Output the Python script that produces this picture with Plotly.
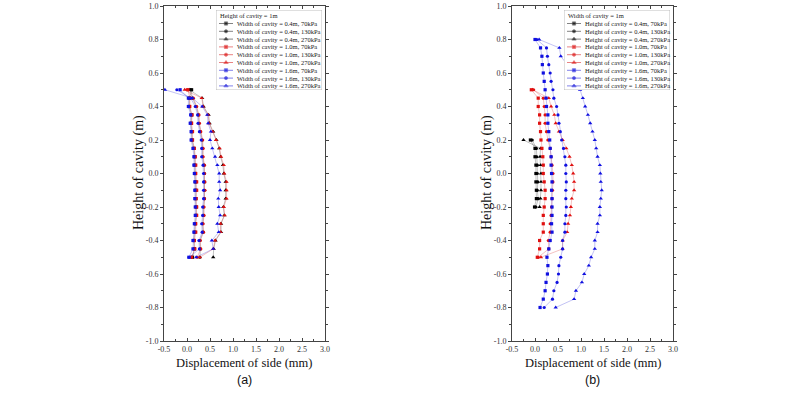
import plotly.graph_objects as go

# ---------------- data ----------------
pressures = ["70kPa", "130kPa", "270kPa"]
symbols = ["square", "circle", "triangle-up"]
colors = ["#000000", "#e01010", "#1010e0"]
line_colors = ["rgba(60,60,60,0.45)", "rgba(220,60,60,0.45)", "rgba(60,60,220,0.45)"]

# Panel (a): height of cavity = 1 m, widths 0.4 / 1.0 / 1.6 m
widths_a = ["0.4m", "1.0m", "1.6m"]
y_a = [0.5, 0.45, 0.4, 0.35, 0.3, 0.25, 0.2, 0.15, 0.1, 0.05, 0.0,
       -0.05, -0.1, -0.15, -0.2, -0.25, -0.3, -0.35, -0.4, -0.45, -0.5]

w04_70 = [0.10, 0.05, 0.05, 0.10, 0.09, 0.10, 0.11, 0.15, 0.17, 0.17, 0.18, 0.19, 0.19, 0.19, 0.20, 0.20, 0.18, 0.17, 0.15, 0.16, 0.12]
w04_130 = [0.08, 0.12, 0.20, 0.25, 0.26, 0.29, 0.33, 0.34, 0.34, 0.37, 0.38, 0.38, 0.38, 0.38, 0.36, 0.36, 0.34, 0.35, 0.28, 0.29, 0.28]
w04_270 = [0.05, 0.33, 0.36, 0.47, 0.49, 0.57, 0.64, 0.70, 0.73, 0.78, 0.80, 0.84, 0.84, 0.84, 0.79, 0.81, 0.74, 0.74, 0.62, 0.58, 0.57]
w10_70 = [0.02, 0.06, 0.06, 0.11, 0.10, 0.12, 0.12, 0.16, 0.18, 0.19, 0.19, 0.21, 0.21, 0.20, 0.21, 0.21, 0.19, 0.19, 0.16, 0.17, 0.10]
w10_130 = [0.00, 0.14, 0.21, 0.26, 0.27, 0.30, 0.34, 0.35, 0.35, 0.38, 0.38, 0.39, 0.39, 0.38, 0.37, 0.37, 0.35, 0.36, 0.29, 0.30, 0.22]
w10_270 = [-0.05, 0.32, 0.35, 0.46, 0.48, 0.56, 0.63, 0.71, 0.74, 0.80, 0.81, 0.86, 0.86, 0.86, 0.80, 0.82, 0.73, 0.73, 0.61, 0.57, 0.28]
w16_70 = [-0.15, 0.03, 0.03, 0.08, 0.07, 0.09, 0.09, 0.13, 0.15, 0.15, 0.16, 0.17, 0.17, 0.17, 0.18, 0.18, 0.16, 0.15, 0.13, 0.13, 0.04]
w16_130 = [-0.22, 0.08, 0.18, 0.23, 0.24, 0.27, 0.31, 0.32, 0.32, 0.35, 0.36, 0.36, 0.36, 0.36, 0.34, 0.34, 0.32, 0.33, 0.26, 0.27, 0.05]
w16_270 = [-0.48, 0.12, 0.33, 0.44, 0.46, 0.52, 0.50, 0.55, 0.61, 0.66, 0.70, 0.70, 0.72, 0.68, 0.69, 0.72, 0.66, 0.69, 0.54, 0.57, 0.20]

# Panel (b): width of cavity = 1 m, heights 0.4 / 1.0 / 1.6 m
heights_b = ["0.4m", "1.0m", "1.6m"]
y_h04 = [0.2, 0.15, 0.1, 0.05, 0.0, -0.05, -0.1, -0.15, -0.2]
y_h10 = y_a
y_h16 = [0.8, 0.75, 0.7, 0.65, 0.6, 0.55, 0.5, 0.45, 0.4, 0.35, 0.3, 0.25, 0.2, 0.15, 0.1, 0.05, 0.0,
         -0.05, -0.1, -0.15, -0.2, -0.25, -0.3, -0.35, -0.4, -0.45, -0.5, -0.55, -0.6, -0.65, -0.7, -0.75, -0.8]

h04_70 = [-0.10, 0.00, 0.00, 0.02, 0.02, 0.02, 0.03, 0.03, -0.01]
h04_130 = [-0.06, 0.03, 0.04, 0.05, 0.05, 0.06, 0.05, 0.07, 0.02]
h04_270 = [-0.25, 0.12, 0.11, 0.12, 0.13, 0.13, 0.13, 0.12, 0.10]
h10_70 = [-0.08, 0.07, 0.07, 0.10, 0.10, 0.12, 0.13, 0.15, 0.17, 0.18, 0.18, 0.20, 0.22, 0.22, 0.20, 0.18, 0.18, 0.18, 0.10, 0.10, 0.05]
h10_130 = [-0.03, 0.18, 0.20, 0.22, 0.22, 0.25, 0.28, 0.33, 0.35, 0.37, 0.39, 0.39, 0.38, 0.37, 0.36, 0.35, 0.33, 0.33, 0.29, 0.30, 0.07]
h10_270 = [-0.05, 0.30, 0.35, 0.42, 0.45, 0.52, 0.60, 0.68, 0.75, 0.80, 0.83, 0.85, 0.85, 0.80, 0.78, 0.76, 0.72, 0.70, 0.60, 0.60, 0.13]
h16_70 = [0.00, 0.12, 0.15, 0.16, 0.18, 0.20, 0.22, 0.24, 0.25, 0.28, 0.28, 0.30, 0.32, 0.33, 0.35, 0.35, 0.36,
          0.37, 0.36, 0.37, 0.37, 0.37, 0.36, 0.37, 0.33, 0.30, 0.26, 0.28, 0.27, 0.24, 0.22, 0.18, 0.11]
h16_130 = [0.04, 0.25, 0.27, 0.30, 0.33, 0.35, 0.39, 0.41, 0.47, 0.50, 0.52, 0.55, 0.58, 0.62, 0.65, 0.67, 0.67,
           0.68, 0.67, 0.67, 0.68, 0.67, 0.65, 0.65, 0.60, 0.60, 0.56, 0.52, 0.51, 0.48, 0.41, 0.38, 0.20]
h16_270 = [0.09, 0.53, 0.56, 0.70, 0.80, 0.90, 0.98, 1.04, 1.09, 1.15, 1.20, 1.25, 1.30, 1.33, 1.36, 1.41, 1.42,
           1.43, 1.45, 1.43, 1.41, 1.41, 1.36, 1.36, 1.30, 1.30, 1.22, 1.17, 1.07, 1.02, 0.89, 0.85, 0.45]

x_ticks = [-0.5, 0.0, 0.5, 1.0, 1.5, 2.0, 2.5, 3.0]
x_ticktext = ["-0.5", "0.0", "0.5", "1.0", "1.5", "2.0", "2.5", "3.0"]
y_ticks = [-1.0, -0.8, -0.6, -0.4, -0.2, 0.0, 0.2, 0.4, 0.6, 0.8, 1.0]
y_ticktext = ["-1.0", "-0.8", "-0.6", "-0.4", "-0.2", "0.0", "0.2", "0.4", "0.6", "0.8", "1.0"]

series_a = [(w04_70, y_a), (w04_130, y_a), (w04_270, y_a),
            (w10_70, y_a), (w10_130, y_a), (w10_270, y_a),
            (w16_70, y_a), (w16_130, y_a), (w16_270, y_a)]
series_b = [(h04_70, y_h04), (h04_130, y_h04), (h04_270, y_h04),
            (h10_70, y_h10), (h10_130, y_h10), (h10_270, y_h10),
            (h16_70, y_h16), (h16_130, y_h16), (h16_270, y_h16)]

labels_a = [f"Width of cavity = {w}, {p}" for w in widths_a for p in pressures]
labels_b = [f"Height of cavity = {h}, {p}" for h in heights_b for p in pressures]

# ---------------- figure ----------------
W, H = 800, 397
SERIF = "Liberation Serif"
fig = go.Figure()

def px_x(p):
    return p / W

def px_y(p):
    return 1 - p / H

panels = [
    dict(xa="x", ya="y", series=series_a, labels=labels_a, x0=164, x1=325,
         lx="x3", ly="y3", leg_x0=216, leg_title="Height of cavity = 1m", tag="(a)"),
    dict(xa="x2", ya="y2", series=series_b, labels=labels_b, x0=512, x1=673,
         lx="x4", ly="y4", leg_x0=564, leg_title="Width of cavity = 1m", tag="(b)"),
]

MS = [3.2, 3.2, 3.8]
for P in panels:
    for i, (xs, ys) in enumerate(P["series"]):
        g, pi = divmod(i, 3)
        fig.add_trace(go.Scatter(
            x=xs, y=ys, mode="lines+markers", xaxis=P["xa"], yaxis=P["ya"],
            line=dict(color=line_colors[g], width=0.7),
            marker=dict(symbol=symbols[pi], size=MS[pi], color=colors[g]),
            name=P["labels"][i], showlegend=False))

# custom legends (boxes + samples drawn on overlay axes)
LEG_W, LEG_H = 106, 80
row_y = [13.5 + 7.8 * k for k in range(9)]
annotations = []
for P in panels:
    fig.add_trace(go.Scatter(
        x=[0, LEG_W, LEG_W, 0, 0], y=[0, 0, LEG_H, LEG_H, 0], mode="lines",
        fill="toself", fillcolor="white", line=dict(color="#b0b0b0", width=0.8),
        xaxis=P["lx"], yaxis=P["ly"], showlegend=False, hoverinfo="skip"))
    for i in range(9):
        g, pi = divmod(i, 3)
        fig.add_trace(go.Scatter(
            x=[3, 10, 17], y=[row_y[i]] * 3, mode="lines+markers",
            line=dict(color=line_colors[g].replace("0.45", "0.8"), width=0.8),
            marker=dict(symbol=symbols[pi], size=[0, MS[pi], 0], color=colors[g]),
            xaxis=P["lx"], yaxis=P["ly"], showlegend=False, hoverinfo="skip"))
        annotations.append(dict(
            x=19, y=row_y[i], xref=P["lx"], yref=P["ly"], text=P["labels"][i],
            showarrow=False, xanchor="left", yanchor="middle",
            font=dict(family=SERIF, size=6.5, color="#222")))
    annotations.append(dict(
        x=2, y=5.5, xref=P["lx"], yref=P["ly"], text=P["leg_title"],
        showarrow=False, xanchor="left", yanchor="middle",
        font=dict(family=SERIF, size=6.5, color="#222")))
    cx = (P["x0"] + P["x1"]) / 2
    annotations.append(dict(
        x=px_x(cx), y=px_y(363), xref="paper", yref="paper",
        xanchor="center", yanchor="middle",
        text="Displacement of side (mm)", showarrow=False,
        font=dict(family=SERIF, size=12.5, color="#111")))
    annotations.append(dict(
        x=px_x(cx), y=px_y(380), xref="paper", yref="paper",
        xanchor="center", yanchor="middle",
        text=P["tag"], showarrow=False,
        font=dict(family="Liberation Sans", size=12.5, color="#111")))
    annotations.append(dict(
        x=px_x(P["x0"] - 25), y=px_y(173), xref="paper", yref="paper",
        xanchor="center", yanchor="middle",
        text="Height of cavity (m)", showarrow=False, textangle=-90,
        font=dict(family=SERIF, size=14, color="#111")))

axis_common = dict(
    showline=True, linecolor="#444", linewidth=0.8, mirror="ticks",
    ticks="outside", ticklen=3, tickwidth=0.8, tickcolor="#444",
    tickfont=dict(family=SERIF, size=8, color="#333"),
    showgrid=False, zeroline=False,
    minor=dict(ticks="outside", ticklen=2, tickcolor="#444", tickwidth=0.6, showgrid=False),
)
ydom = [px_y(341), px_y(6)]
layout_axes = {}
for k, P in enumerate(panels):
    sfx = "" if k == 0 else "2"
    layout_axes["xaxis" + sfx] = dict(axis_common, domain=[px_x(P["x0"]), px_x(P["x1"])],
                                     range=[-0.5, 3.0], tickvals=x_ticks, ticktext=x_ticktext,
                                     anchor="y" + sfx, ticks="inside",
                                     minor=dict(axis_common["minor"], ticks="inside",
                                                dtick=0.25, tick0=-0.5))
    layout_axes["yaxis" + sfx] = dict(axis_common, domain=ydom, range=[-1.0, 1.0],
                                     tickvals=y_ticks, ticktext=y_ticktext, anchor="x" + sfx,
                                     minor=dict(axis_common["minor"], dtick=0.1, tick0=-1.0))
    lsfx = str(k + 3)
    layout_axes["xaxis" + lsfx] = dict(domain=[px_x(P["leg_x0"]), px_x(P["leg_x0"] + LEG_W)],
                                      range=[0, LEG_W], visible=False, fixedrange=True,
                                      anchor="y" + lsfx)
    layout_axes["yaxis" + lsfx] = dict(domain=[px_y(10 + LEG_H), px_y(10)],
                                      range=[LEG_H, 0], visible=False, fixedrange=True,
                                      anchor="x" + lsfx)

fig.update_layout(
    width=W, height=H, margin=dict(l=0, r=0, t=0, b=0, autoexpand=False),
    paper_bgcolor="white", plot_bgcolor="white",
    showlegend=False, annotations=annotations, **layout_axes)

fig.write_html("out.html", config={"responsive": False, "displayModeBar": False},
               post_script="document.body.style.margin='0';document.body.style.overflow='hidden';")
